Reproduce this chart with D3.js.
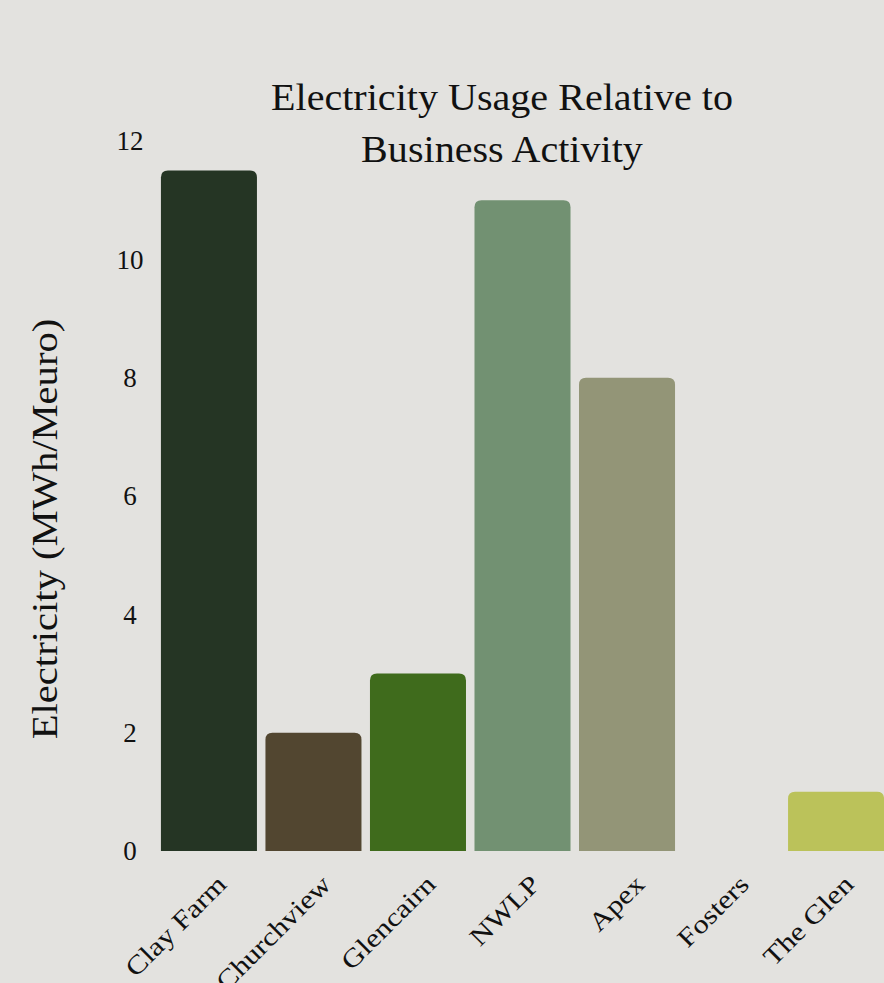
<!DOCTYPE html>
<html>
<head>
<meta charset="utf-8">
<script src="https://cdn.jsdelivr.net/npm/d3@7"></script>
<style>
  html, body { margin: 0; padding: 0; background: #e3e2df; }
  svg { display: block; }
  text { font-family: "Liberation Serif", "DejaVu Serif", serif; fill: #111; }
</style>
</head>
<body>
<svg id="chart" width="884" height="983"></svg>
<script>
// Sites and their electricity use per unit of business activity
const sites = ["Clay Farm", "Churchview", "Glencairn", "NWLP", "Apex", "Fosters", "The Glen"];
const usage = [11.5, 2, 3, 11, 8, 0, 1];
const barColors = ["#253524", "#524630", "#3f6b1c", "#729172", "#939577", "#9aa86a", "#bbc25a"];
const yTicks = [0, 2, 4, 6, 8, 10, 12];
const titleLines = ["Electricity Usage Relative to", "Business Activity"];
const yTitle = "Electricity (MWh/Meuro)";

const svg = d3.select("#chart");
const W = 884, H = 983;

svg.append("rect").attr("width", W).attr("height", H).attr("fill", "#e3e2df");

const x = d3.scaleBand()
  .domain(sites)
  .range([156.75, 888.25])
  .paddingInner(0.0813)
  .paddingOuter(0.04);

const y = d3.scaleLinear().domain([0, 12]).range([851, 141]);

// bar with rounded top corners only
function topRounded(x0, y0, w, h, r) {
  r = Math.min(r, h, w / 2);
  if (h <= 0) return "";
  return `M${x0},${y0 + h}V${y0 + r}Q${x0},${y0} ${x0 + r},${y0}H${x0 + w - r}Q${x0 + w},${y0} ${x0 + w},${y0 + r}V${y0 + h}Z`;
}

// widen text a little so the serif reads broad, like a display face
function widen(sel, factor) {
  sel.each(function () {
    const len = this.getComputedTextLength();
    d3.select(this).attr("textLength", len * factor).attr("lengthAdjust", "spacingAndGlyphs");
  });
}

const data = sites.map((s, i) => ({ site: s, value: usage[i], color: barColors[i] }));

svg.append("g").selectAll("path")
  .data(data)
  .join("path")
  .attr("d", d => topRounded(x(d.site), y(d.value), x.bandwidth(), y(0) - y(d.value), 7))
  .attr("fill", d => d.color);

// y axis labels (no line, no tick marks)
const yAxis = d3.axisLeft(y).tickValues(yTicks).tickSize(0).tickPadding(0);
const yg = svg.append("g").attr("transform", "translate(130,0)").call(yAxis);
yg.select(".domain").remove();
yg.selectAll("text")
  .attr("text-anchor", "middle")
  .attr("dy", "0.33em")
  .attr("font-size", 27)
  .attr("fill", "#111");

// x axis labels, rotated
const xAxis = d3.axisBottom(x).tickSize(0).tickPadding(0);
const xg = svg.append("g").attr("transform", "translate(0,851)").call(xAxis);
xg.select(".domain").remove();
xg.selectAll("text")
  .attr("text-anchor", "end")
  .attr("font-size", 26)
  .attr("fill", "#111")
  .attr("dy", 0)
  .attr("y", 0)
  .attr("transform", "translate(19,35) rotate(-45)")
  .call(widen, 1.18);

// title
svg.append("g").selectAll("text")
  .data(titleLines)
  .join("text")
  .attr("x", 502)
  .attr("y", (d, i) => 110 + i * 52)
  .attr("text-anchor", "middle")
  .attr("font-size", 38)
  .text(d => d)
  .call(widen, 1.055);

// y axis title
svg.append("text")
  .attr("transform", "translate(57,529) rotate(-90)")
  .attr("text-anchor", "middle")
  .attr("font-size", 35)
  .text(yTitle)
  .call(widen, 1.16);
</script>
</body>
</html>
